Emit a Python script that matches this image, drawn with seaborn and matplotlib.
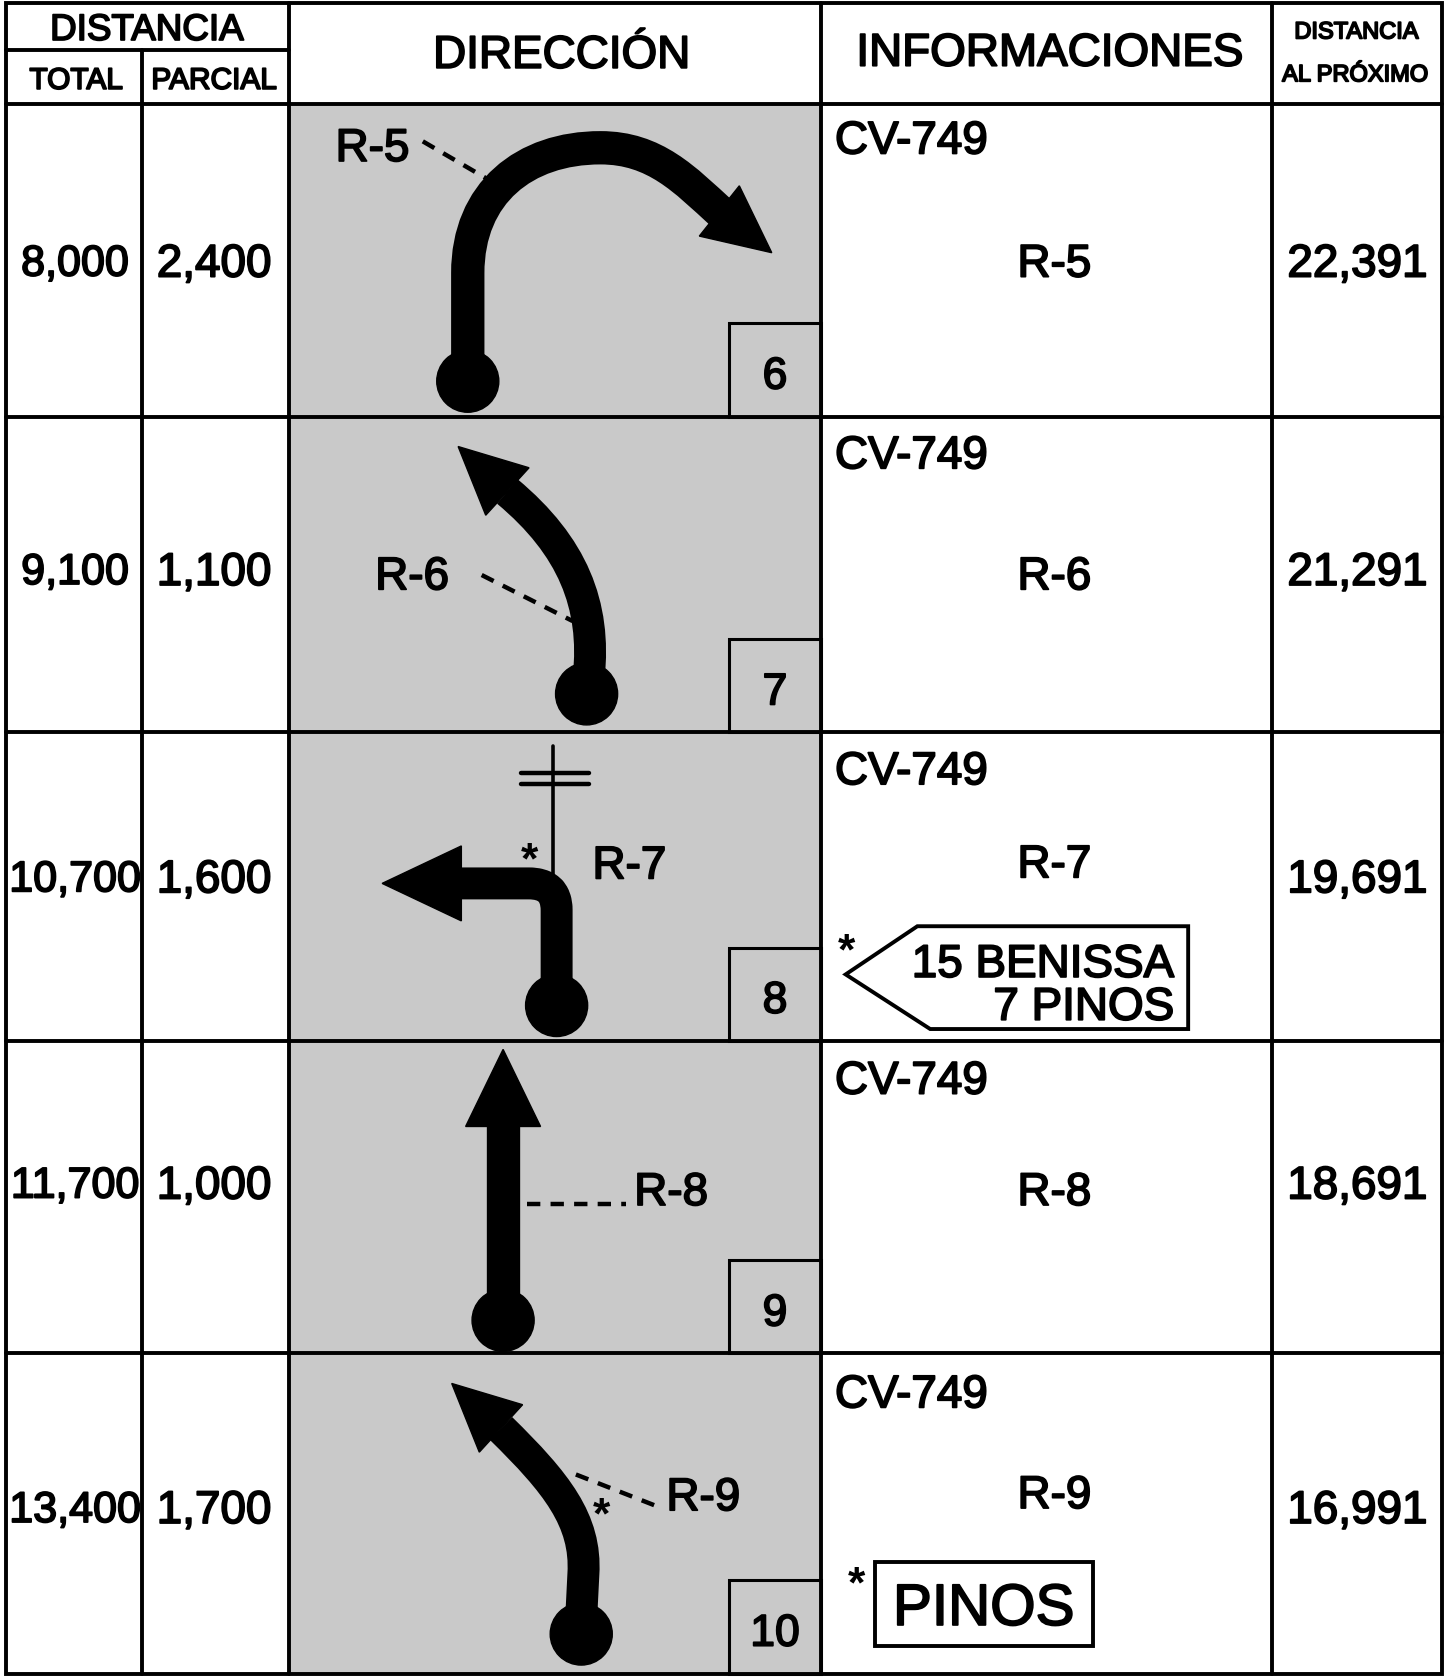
import numpy as np
import matplotlib
matplotlib.use("Agg")
import matplotlib.pyplot as plt
import matplotlib.patheffects as pe
import seaborn as sns
from matplotlib.path import Path
from matplotlib.patches import PathPatch, Polygon, Circle, Rectangle

# Roadbook data
total_km = [8.000, 9.100, 10.700, 11.700, 13.400]
parcial_km = [2.400, 1.100, 1.600, 1.000, 1.700]
proximo_km = [22.391, 21.291, 19.691, 18.691, 16.991]
via = ["CV-749", "CV-749", "CV-749", "CV-749", "CV-749"]
ruta = ["R-5", "R-6", "R-7", "R-8", "R-9"]
casilla = [6, 7, 8, 9, 10]
cartel_r7 = ["15 BENISSA", "7 PINOS"]
cartel_r9 = "PINOS"


def km(v):
    return f"{v:.3f}".replace(".", ",")


sns.set_theme(style="white")
plt.rcParams['font.family'] = ['Liberation Sans', 'DejaVu Sans']

W, H = 1349, 1568           # drawing units (reference scale)
fig = plt.figure(figsize=(14.44, 16.79), dpi=100)
ax = fig.add_axes([0, 0, 1, 1])
ax.set_xlim(0, W)
ax.set_ylim(H, 0)
ax.axis('off')

PX = 100 / 72 / 1.0704      # points -> drawing units
GREY = '#c9c9c9'
HEAVY = [pe.withStroke(linewidth=1.3, foreground='black')]


def put(x, y, s, fs, ha='center'):
    # y is the visual centre of capitals
    ax.text(x, y + 0.358 * fs * PX, s, fontsize=fs, ha=ha, va='baseline', color='black',
            path_effects=HEAVY, zorder=6)


def star(x, y, fs=32):
    ax.text(x, y + 0.58 * fs * PX, "*", fontsize=fs, ha='center', va='baseline', color='black',
            fontweight='bold', zorder=6)


def stroke(verts, codes, lw=23):
    ax.add_patch(PathPatch(Path(verts, codes), fill=False, lw=lw, edgecolor='black',
                           capstyle='butt', joinstyle='round', zorder=3))


def head(tip, base, half=30):
    tip = np.array(tip, float)
    base = np.array(base, float)
    d = tip - base
    n = np.array([-d[1], d[0]]) / np.hypot(*d)
    ax.add_patch(Polygon([tip, base + half * n, base - half * n], closed=True,
                         facecolor='black', edgecolor='black', lw=1, zorder=3))


def dot(x, y, r=29):
    ax.add_patch(Circle((x, y), r, color='black', zorder=4))


def dashed(p0, p1):
    ax.plot([p0[0], p1[0]], [p0[1], p1[1]], color='black', lw=3.2,
            linestyle=(0, (3.0, 2.3)), solid_capstyle='butt', zorder=3)


# Layout
row_top = [97, 389, 684, 972, 1264]
row_bot = [389, 684, 972, 1264, 1563]
LW = 2.8

# grey direction column
ax.add_patch(Rectangle((270, 97), 767 - 270, 1563 - 97, facecolor=GREY, edgecolor='none', zorder=0))

# number boxes
for top, bot, n in zip(row_top, row_bot, casilla):
    ax.add_patch(Rectangle((681, bot - 87), 86, 87, facecolor=GREY, edgecolor='black', lw=2.2, zorder=1))
    put(724, bot - 41, str(n), 32)

# grid
ax.add_patch(Rectangle((6, 3), 1341, 1560, fill=False, edgecolor='black', lw=LW, zorder=5))
for x in [270, 767, 1188]:
    ax.plot([x, x], [3, 1563], color='black', lw=LW, zorder=5)
ax.plot([133, 133], [47, 1563], color='black', lw=LW, zorder=5)
ax.plot([6, 270], [47, 47], color='black', lw=LW, zorder=5)
for y in [97] + row_bot[:-1]:
    ax.plot([6, 1347], [y, y], color='black', lw=LW, zorder=5)

# header
put(137, 25, "DISTANCIA", 26.5)
put(71, 73, "TOTAL", 21.5)
put(200, 73, "PARCIAL", 21.5)
put(525, 48, "DIRECCIÓN", 33)
put(981, 46, "INFORMACIONES", 33)
put(1267, 28, "DISTANCIA", 17)
put(1266, 68, "AL PRÓXIMO", 17)

# rows text
num_y = [243, 531, 818, 1104, 1407]
via_y = [128, 422, 717, 1006, 1299]
ruta_y = [243, 535, 804, 1110, 1393]
for i in range(5):
    put(70, num_y[i], km(total_km[i]), 31)
    put(200, num_y[i], km(parcial_km[i]), 33)
    put(1268, num_y[i], km(proximo_km[i]), 33)
    put(780, via_y[i], via[i], 33, ha='left')
    put(985, ruta_y[i], ruta[i], 33)

M, L, C = Path.MOVETO, Path.LINETO, Path.CURVE4

# row 1: R-5
stroke([(437, 345), (437, 255), (437, 180), (490, 138), (561, 138),
        (612, 138), (640, 168), (674, 199)], [M, L, C, C, C, C, C, C], lw=24)
head((721, 236), (672, 197), 30)
dot(437, 356)
dashed((395, 132), (455, 167))
put(348, 135, ruta[0], 33)

# row 2: R-6
stroke([(550, 632), (557, 565), (535, 510), (474, 459)], [M, C, C, C])
head((428, 417), (474, 459), 30)
dot(548, 648)
dashed((450, 537), (535, 580))
put(385, 535, ruta[1], 33)

# row 3: R-7
ax.plot([517, 517], [697, 822], color='black', lw=2.6, zorder=2)
ax.plot([487, 550], [722, 722], color='black', lw=3.2, zorder=2)
ax.plot([487, 550], [732, 732], color='black', lw=3.2, zorder=2)
stroke([(520, 925), (520, 850), (520, 832), (510, 825), (494, 825), (431, 825)],
       [M, L, C, C, C, L])
head((357, 825), (431, 825), 35)
dot(520, 939)
star(495, 792)
put(588, 805, ruta[2], 33)

# row 4: R-8
stroke([(470, 1220), (470, 1050)], [M, L], lw=24)
head((470, 980), (470, 1052), 35)
dot(470, 1233)
dashed((492, 1124), (585, 1124))
put(627, 1110, ruta[3], 33)

# row 5: R-9
stroke([(543, 1510), (545, 1470), (548, 1420), (520, 1385), (468, 1334)], [M, L, C, C, C])
head((422, 1292), (468, 1334), 30)
dot(543, 1526)
dashed((538, 1377), (612, 1406))
star(562, 1403)
put(657, 1395, ruta[4], 33)

# information signs
ax.add_patch(Polygon([(790, 910), (857, 865), (1110, 865), (1110, 961), (869, 961)], closed=True,
                     fill=False, edgecolor='black', lw=2.8, zorder=3))
put(1097, 897, cartel_r7[0], 33, ha='right')
put(1097, 937, cartel_r7[1], 33, ha='right')
star(791, 877)

ax.add_patch(Rectangle((817, 1459), 204, 78, fill=False, edgecolor='black', lw=2.8, zorder=3))
put(919, 1498, cartel_r9, 42)
star(800, 1468)

plt.savefig('out.png', dpi=100)
